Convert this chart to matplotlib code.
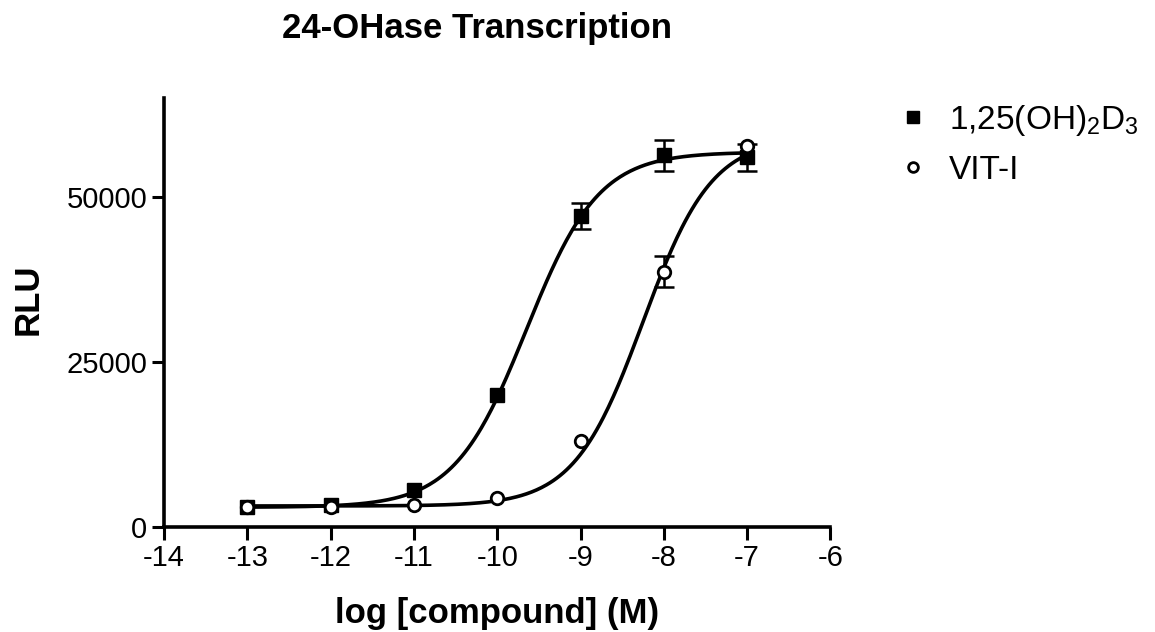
import matplotlib.pyplot as plt
import numpy as np
from matplotlib.lines import Line2D

plt.rcParams['font.family'] = ['Liberation Sans', 'DejaVu Sans']
plt.rcParams['mathtext.fontset'] = 'custom'
plt.rcParams['mathtext.rm'] = 'Liberation Sans'

# measured points
log_conc = [-13, -12, -11, -10, -9, -8, -7]
d3_rlu = [3050, 3350, 5650, 20000, 47100, 56300, 56000]
d3_err = [0, 0, 0, 0, 2000, 2400, 2000]
vit_rlu = [3050, 3050, 3350, 4450, 13100, 38700, 57700]
vit_err = [0, 0, 0, 0, 0, 2300, 0]

# sigmoid fit parameters: bottom, top, logEC50, hill
d3_fit = [3000, 56800, -9.65, 1.0]
vit_fit = [3200, 59000, -8.25, 1.05]

x_ticks = [-14, -13, -12, -11, -10, -9, -8, -7, -6]
y_ticks = [0, 25000, 50000]


def logistic(x, p):
    bottom, top, ec50, hill = p
    return bottom + (top - bottom) / (1 + 10 ** ((ec50 - x) * hill))


def with_err(x, y, e):
    keep = [i for i in range(len(x)) if e[i] > 0]
    return [x[i] for i in keep], [y[i] for i in keep], [e[i] for i in keep]


fig = plt.figure(figsize=(11.55, 6.32), dpi=100)
ax = fig.add_axes([0.142, 0.166, 0.577, 0.679])

xx = np.linspace(log_conc[0], log_conc[-1], 300)
ax.plot(xx, logistic(xx, d3_fit), color='black', lw=2.6, zorder=2)
ax.plot(xx, logistic(xx, vit_fit), color='black', lw=2.6, zorder=2)

ex, ey, ee = with_err(log_conc, d3_rlu, d3_err)
ax.errorbar(ex, ey, yerr=ee, fmt='none', ecolor='black', capsize=7,
            elinewidth=1.8, capthick=1.8, zorder=3)
ex, ey, ee = with_err(log_conc, vit_rlu, vit_err)
ax.errorbar(ex, ey, yerr=ee, fmt='none', ecolor='black', capsize=7,
            elinewidth=1.8, capthick=1.8, zorder=3)

ax.plot(log_conc, d3_rlu, 's', color='black', ms=10.5, zorder=4)
ax.plot(log_conc, vit_rlu, 'o', color='black', mfc='white', mew=2, ms=9, zorder=5)

ax.set_xlim(-14, -6)
ax.set_ylim(0, 65000)
ax.set_xticks(x_ticks)
ax.set_xticklabels([str(t) for t in x_ticks])
ax.set_yticks(y_ticks)
ax.set_yticklabels([str(t) for t in y_ticks])

for s in ['top', 'right']:
    ax.spines[s].set_visible(False)
for s in ['left', 'bottom']:
    ax.spines[s].set_linewidth(2.6)
ax.tick_params(width=2.2, length=9, labelsize=21, pad=3)

ax.set_xlabel('log [compound] (M)', fontsize=25, fontweight='bold', labelpad=18)
ax.set_ylabel('RLU', fontsize=25, fontweight='bold', labelpad=16, y=0.53)
ax.set_title('24-OHase Transcription', fontsize=25, fontweight='bold', pad=43, x=0.469)

handles = [
    Line2D([], [], ls='none', marker='s', color='black', ms=8),
    Line2D([], [], ls='none', marker='o', color='black', mfc='white', mew=2, ms=7),
]
fig.legend(handles, ['1,25(OH)$_\\mathregular{2}$D$_\\mathregular{3}$', 'VIT-I'],
           loc='upper left', bbox_to_anchor=(0.7645, 0.858), frameon=False,
           fontsize=24, handlelength=1.0, handletextpad=0.57, labelspacing=0.5,
           borderaxespad=0)

fig.savefig('out.png', dpi=100)
